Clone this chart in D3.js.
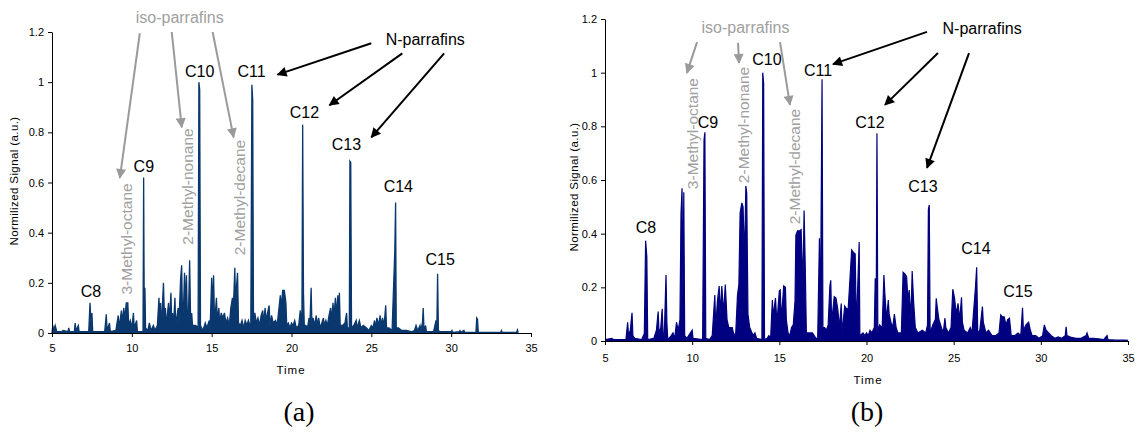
<!DOCTYPE html>
<html>
<head>
<meta charset="utf-8">
<script src="https://cdn.jsdelivr.net/npm/d3@7"></script>
<style>
  body { margin: 0; background: #fff; }
  svg { display: block; font-family: Arial, "Liberation Sans", sans-serif; }
  .axis text { font-size: 11px; fill: #000; }
  .axis path, .axis line { stroke: #000; }
</style>
</head>
<body>
<svg id="chart" width="1141" height="432"></svg>
<script>
// ---- data ----
// panel (a): retention time (min) and normalized signal
var timeA = [5.0,5.05,5.1,5.2,5.3,5.6,5.7,6.0,6.05,6.1,6.4,6.45,6.5,6.65,6.7,7.3,7.38,7.45,7.5,7.55,
  8.3,8.4,8.45,8.6,8.65,9.0,9.05,9.15,9.2,9.35,9.4,9.5,9.55,9.65,9.75,9.8,9.9,10.0,10.1,10.15,10.3,10.35,
  10.7,10.74,10.78,10.82,10.86,11.0,11.1,11.2,11.35,11.45,11.6,11.7,11.75,11.8,11.85,11.98,12.05,12.1,12.15,
  12.3,12.35,12.45,12.5,12.55,12.6,12.7,12.75,12.9,12.95,13.05,13.12,13.18,13.25,13.3,13.35,13.42,13.48,
  13.55,13.62,13.68,13.75,13.8,14.0,14.15,14.2,14.25,14.3,14.45,14.6,14.7,14.85,14.9,15.0,15.05,15.12,15.18,
  15.3,15.35,15.45,15.5,15.6,15.7,15.8,15.9,16.0,16.1,16.2,16.3,16.35,16.45,16.5,16.55,16.62,16.68,16.8,16.9,
  17.0,17.1,17.2,17.3,17.45,17.52,17.57,17.62,17.7,17.8,17.9,18.0,18.1,18.2,18.25,18.35,18.4,18.5,18.6,18.65,
  18.75,18.85,19.0,19.1,19.3,19.35,19.45,19.55,19.65,19.7,19.8,19.9,20.0,20.1,20.2,20.3,20.45,20.55,20.65,
  20.7,20.75,20.8,20.9,21.0,21.1,21.15,21.23,21.28,21.35,21.45,21.55,21.6,21.7,21.8,21.9,22.0,22.05,22.15,
  22.25,22.35,22.45,22.5,22.6,22.65,22.75,22.8,22.9,22.95,23.0,23.05,23.2,23.35,23.45,23.5,23.62,23.66,23.71,
  23.76,23.9,24.05,24.1,24.25,24.35,24.5,24.7,24.85,25.0,25.1,25.2,25.25,25.35,25.45,25.55,25.6,25.7,25.8,
  25.9,25.95,26.1,26.3,26.47,26.52,26.56,26.7,26.9,27.2,27.5,27.7,27.8,27.9,28.05,28.1,28.2,28.25,28.3,28.4,
  28.45,28.9,29.05,29.1,29.15,29.2,29.3,30.0,30.05,30.1,30.5,30.55,30.6,30.8,30.85,31.55,31.6,31.65,31.7,
  33.1,33.15,33.2,34.1,34.15,34.2];
var signalA = [0.0,0.03,0.01,0.03,0.005,0.005,0.01,0.005,0.02,0.005,0.005,0.04,0.01,0.03,0.005,0.005,0.12,0.03,0.08,0.005,
  0.005,0.075,0.01,0.04,0.005,0.01,0.03,0.07,0.02,0.09,0.04,0.1,0.05,0.12,0.12,0.03,0.05,0.02,0.08,0.02,0.05,0.005,
  0.005,0.62,0.05,0.18,0.02,0.01,0.04,0.01,0.03,0.01,0.03,0.14,0.04,0.12,0.02,0.2,0.05,0.1,0.03,
  0.12,0.04,0.16,0.03,0.08,0.02,0.14,0.03,0.1,0.04,0.21,0.27,0.05,0.13,0.24,0.1,0.23,0.06,
  0.08,0.29,0.06,0.08,0.03,0.03,0.02,1.0,0.97,0.03,0.01,0.04,0.02,0.05,0.01,0.22,0.1,0.23,0.04,
  0.14,0.05,0.1,0.04,0.08,0.06,0.08,0.04,0.06,0.03,0.1,0.14,0.08,0.26,0.1,0.18,0.24,0.04,0.03,0.05,
  0.02,0.05,0.03,0.05,0.02,0.99,0.93,0.03,0.08,0.04,0.06,0.03,0.07,0.09,0.04,0.1,0.05,0.08,0.11,0.03,
  0.07,0.04,0.05,0.03,0.15,0.1,0.17,0.17,0.12,0.03,0.04,0.02,0.04,0.03,0.05,0.02,0.03,0.09,0.02,
  0.83,0.16,0.03,0.03,0.02,0.06,0.03,0.18,0.03,0.06,0.03,0.07,0.03,0.06,0.02,0.04,0.06,0.03,0.05,
  0.03,0.07,0.1,0.05,0.12,0.06,0.14,0.07,0.15,0.05,0.16,0.03,0.03,0.04,0.08,0.02,0.02,0.685,0.68,
  0.02,0.03,0.05,0.02,0.05,0.02,0.03,0.02,0.01,0.03,0.02,0.05,0.02,0.06,0.03,0.07,0.03,0.06,0.03,
  0.11,0.02,0.02,0.01,0.33,0.52,0.02,0.02,0.01,0.01,0.005,0.01,0.03,0.01,0.03,0.01,0.04,0.1,0.01,0.03,
  0.005,0.005,0.05,0.01,0.236,0.01,0.005,0.005,0.01,0.002,0.005,0.01,0.003,0.01,0.002,0.002,0.06,0.055,0.002,
  0.002,0.01,0.002,0.002,0.012,0.002];

// panel (b)
var timeB = [5.0,5.4,5.5,6.2,6.3,6.35,6.45,6.55,6.6,6.7,7.1,7.2,7.25,7.33,7.4,7.45,7.8,7.9,7.95,8.05,8.1,8.2,8.28,
  8.33,8.4,8.5,8.55,8.6,8.8,8.9,9.0,9.1,9.2,9.3,9.36,9.42,9.47,9.52,9.57,9.7,9.8,9.9,10.0,10.05,10.6,10.68,
  10.73,10.78,11.0,11.15,11.3,11.35,11.45,11.55,11.6,11.7,11.8,11.9,12.0,12.1,12.3,12.4,12.5,12.6,12.68,12.75,
  12.85,12.92,13.0,13.08,13.13,13.2,13.3,13.5,13.6,13.7,14.0,14.05,14.1,14.15,14.3,14.4,14.5,14.6,14.65,14.7,
  14.78,14.85,14.9,15.0,15.05,15.12,15.25,15.35,15.4,15.5,15.6,15.7,15.8,15.9,15.95,16.05,16.15,16.25,16.35,
  16.42,16.48,16.55,16.7,16.9,17.1,17.2,17.3,17.35,17.45,17.5,17.6,17.7,17.8,17.9,17.95,18.0,18.15,18.25,
  18.35,18.45,18.55,18.6,18.75,18.85,18.95,19.05,19.15,19.25,19.35,19.42,19.58,19.62,19.8,19.9,20.0,20.1,
  20.2,20.3,20.45,20.5,20.55,20.6,20.65,20.75,20.9,21.0,21.05,21.15,21.25,21.3,21.4,21.5,21.6,21.7,21.8,
  22.0,22.1,22.2,22.3,22.38,22.45,22.55,22.62,22.7,22.8,22.95,23.2,23.4,23.5,23.55,23.6,23.65,23.8,23.95,
  24.0,24.05,24.15,24.3,24.4,24.5,24.55,24.7,24.85,24.95,25.05,25.15,25.25,25.35,25.45,25.5,25.6,25.8,
  25.95,26.05,26.25,26.32,26.38,26.5,26.65,26.7,26.85,27.0,27.2,27.4,27.6,27.7,27.8,27.9,28.0,28.1,28.2,
  28.3,28.5,28.7,28.85,28.95,29.0,29.15,29.3,29.4,29.5,29.7,29.9,30.1,30.2,30.3,30.45,30.6,30.8,31.0,
  31.2,31.4,31.45,31.5,31.7,32.0,32.3,32.6,32.65,32.75,33.0,33.3,33.6,33.8,33.85,34.3,34.8,35.0];
var signalB = [0.005,0.01,0.005,0.005,0.07,0.02,0.04,0.105,0.02,0.01,0.005,0.02,0.005,0.374,0.314,0.005,0.01,0.03,0.04,0.11,0.03,0.05,0.12,
  0.03,0.02,0.246,0.07,0.005,0.02,0.03,0.01,0.07,0.04,0.08,0.476,0.569,0.16,0.554,0.02,0.01,0.02,0.03,0.04,0.01,0.005,0.749,
  0.778,0.01,0.005,0.02,0.171,0.05,0.15,0.205,0.1,0.205,0.103,0.21,0.08,0.05,0.05,0.02,0.03,0.171,0.21,0.478,
  0.515,0.5,0.3,0.578,0.55,0.1,0.05,0.02,0.03,0.01,0.005,1.0,0.96,0.005,0.01,0.02,0.01,0.153,0.08,0.12,
  0.16,0.08,0.1,0.187,0.19,0.08,0.205,0.2,0.08,0.03,0.02,0.05,0.06,0.15,0.395,0.411,0.41,0.415,0.2,
  0.486,0.3,0.03,0.03,0.03,0.01,0.01,0.383,0.02,0.975,0.05,0.05,0.04,0.06,0.205,0.226,0.07,0.165,0.16,
  0.12,0.05,0.14,0.03,0.13,0.12,0.12,0.23,0.339,0.33,0.325,0.05,0.369,0.02,0.03,0.02,0.03,0.02,
  0.04,0.03,0.05,0.234,0.02,0.774,0.03,0.06,0.05,0.246,0.18,0.08,0.153,0.1,0.07,0.05,0.1,0.05,0.03,
  0.03,0.256,0.25,0.24,0.15,0.19,0.08,0.261,0.15,0.05,0.03,0.04,0.03,0.06,0.49,0.507,0.03,0.06,0.08,
  0.159,0.13,0.08,0.05,0.03,0.085,0.05,0.03,0.05,0.193,0.16,0.1,0.14,0.08,0.163,0.07,0.04,0.03,
  0.05,0.03,0.2,0.275,0.03,0.04,0.128,0.07,0.03,0.04,0.02,0.02,0.03,0.097,0.09,0.09,0.06,0.08,0.085,
  0.02,0.02,0.03,0.02,0.124,0.04,0.06,0.07,0.04,0.02,0.02,0.01,0.02,0.06,0.04,0.03,0.02,0.01,0.015,
  0.01,0.02,0.053,0.02,0.015,0.01,0.01,0.02,0.03,0.01,0.01,0.008,0.005,0.02,0.005,0.003,0.003,0.002];

var xTicks = [5, 10, 15, 20, 25, 30, 35];
var yTicks = [0, 0.2, 0.4, 0.6, 0.8, 1, 1.2];

// peak labels: name, time, signal (label anchor)
var peakNames = ["C8", "C9", "C10", "C11", "C12", "C13", "C14", "C15"];
var peakPosA = [[7.44,0.143],[10.75,0.641],[14.25,1.02],[17.5,1.02],[20.81,0.857],[23.44,0.729],[26.69,0.562],[29.31,0.271]];
var peakPosB = [[7.35,0.403],[10.91,0.794],[14.29,1.029],[17.22,0.988],[20.2,0.794],[23.24,0.555],[26.28,0.324],[28.69,0.164]];

var isoNames = ["3-Methyl-octane", "2-Methyl-nonane", "2-Methyl-decane"];
var isoPosA = [[9.69,0.375],[13.5,0.584],[16.75,0.54]];
var isoPosB = [[10.03,0.773],[12.93,0.805],[15.9,0.65]];

// arrows [t0, v0, t1, v1]
var isoArrowsA = [[10.5,1.195,9.25,0.618],[12.5,1.2,13.125,0.82],[15.06,1.2,16.375,0.78]];
var nArrowsA = [[25.0,1.155,19.125,1.03],[26.94,1.115,22.375,0.908],[29.56,1.115,25.0,0.78]];
var isoArrowsB = [[10.28,1.114,9.7,0.999],[12.63,1.111,12.69,1.036],[15.04,1.114,15.61,0.88]];
var nArrowsB = [[23.47,1.152,18.08,1.032],[24.1,1.073,21.06,0.88],[25.88,1.073,23.47,0.645]];

var svg = d3.select("#chart");

// arrowheads
var defs = svg.append("defs");
[["headGray", "#9a9a9a"], ["headBlack", "#000"]].forEach(function(m) {
  defs.append("marker")
    .attr("id", m[0])
    .attr("viewBox", "0 0 10 10")
    .attr("refX", 9).attr("refY", 5)
    .attr("markerWidth", 6).attr("markerHeight", 5)
    .attr("markerUnits", "strokeWidth")
    .attr("orient", "auto")
    .append("path")
    .attr("d", "M0,0 L10,5 L0,10 Z")
    .attr("fill", m[1]);
});

function drawPanel(opt) {
  var x = d3.scaleLinear().domain([5, 35]).range(opt.xr);
  var y = d3.scaleLinear().domain([0, 1.2]).range(opt.yr);
  var g = svg.append("g");

  var pts = opt.t.map(function(t, i) { return [t, opt.s[i]]; });

  // the original is sampled densely enough to look filled under the trace
  g.append("path")
    .datum(pts)
    .attr("fill", opt.color)
    .attr("d", d3.area().x(function(d) { return x(d[0]); }).y0(y(0)).y1(function(d) { return y(d[1]); }));

  // signal trace
  g.append("path")
    .datum(pts)
    .attr("fill", "none")
    .attr("stroke", opt.color)
    .attr("stroke-width", opt.lw)
    .attr("stroke-linejoin", "miter")
    .attr("d", d3.line().x(function(d) { return x(d[0]); }).y(function(d) { return y(d[1]); }));

  // axes
  g.append("g")
    .attr("class", "axis")
    .attr("transform", "translate(" + opt.xr[0] + ",0)")
    .call(d3.axisLeft(y).tickValues(yTicks).tickSize(4).tickSizeOuter(0).tickPadding(4)
      .tickFormat(function(d) { return String(d); }));
  g.append("g")
    .attr("class", "axis")
    .attr("transform", "translate(0," + opt.yr[0] + ")")
    .call(d3.axisBottom(x).tickValues(xTicks).tickSize(4).tickSizeOuter(0).tickPadding(opt.xpad)
      .tickFormat(d3.format("d")));

  // axis titles
  g.append("text")
    .attr("transform", "translate(" + opt.ylabX + "," + opt.ylabY + ") rotate(-90)")
    .attr("text-anchor", "middle")
    .style("font-size", "11.5px")
    .style("letter-spacing", "0.4px")
    .text("Normilized Signal (a.u.)");
  g.append("text")
    .attr("x", opt.timeX).attr("y", opt.timeY)
    .attr("text-anchor", "middle")
    .style("font-size", "11.5px")
    .style("letter-spacing", "1px")
    .text("Time");

  // peak names
  g.selectAll(".peak")
    .data(opt.peaks)
    .join("text")
    .attr("x", function(d) { return x(d[0]); })
    .attr("y", function(d) { return y(d[1]); })
    .attr("text-anchor", "middle")
    .style("font-size", "16px")
    .text(function(d, i) { return peakNames[i]; });

  // iso-paraffin names (rotated)
  g.selectAll(".iso")
    .data(opt.iso)
    .join("text")
    .attr("transform", function(d) { return "translate(" + x(d[0]) + "," + y(d[1]) + ") rotate(-90)"; })
    .attr("dy", "0.35em")
    .attr("text-anchor", "middle")
    .attr("fill", "#a0a0a0")
    .style("font-size", "15.5px")
    .text(function(d, i) { return isoNames[i]; });

  // group titles
  g.append("text")
    .attr("x", x(opt.isoTitle[0])).attr("y", y(opt.isoTitle[1]))
    .attr("text-anchor", "middle")
    .attr("fill", "#a0a0a0")
    .style("font-size", "16px")
    .text("iso-parrafins");
  g.append("text")
    .attr("x", x(opt.nTitle[0])).attr("y", y(opt.nTitle[1]))
    .attr("text-anchor", "middle")
    .style("font-size", "16px")
    .text("N-parrafins");

  // arrows
  function arrows(list, col, head) {
    g.selectAll(null)
      .data(list)
      .join("line")
      .attr("x1", function(d) { return x(d[0]); })
      .attr("y1", function(d) { return y(d[1]); })
      .attr("x2", function(d) { return x(d[2]); })
      .attr("y2", function(d) { return y(d[3]); })
      .attr("stroke", col)
      .attr("stroke-width", 2)
      .attr("marker-end", "url(#" + head + ")");
  }
  arrows(opt.isoArrows, "#9a9a9a", "headGray");
  arrows(opt.nArrows, "#000", "headBlack");

  // panel letter
  g.append("text")
    .attr("x", opt.letterX).attr("y", 421)
    .attr("text-anchor", "middle")
    .style("font-family", "'Liberation Serif', 'Times New Roman', serif")
    .style("font-size", "28px")
    .text(opt.letter);
}

drawPanel({
  t: timeA, s: signalA, color: "#0a386e", lw: 1.3,
  xr: [52, 531], yr: [333, 32], xpad: 7,
  ylabX: 18, ylabY: 181, timeX: 291, timeY: 374,
  peaks: peakPosA, iso: isoPosA,
  isoTitle: [13.0, 1.235], nTitle: [28.375, 1.147],
  isoArrows: isoArrowsA, nArrows: nArrowsA,
  letter: "(a)", letterX: 299
});

drawPanel({
  t: timeB, s: signalB, color: "#000080", lw: 1.2,
  xr: [605, 1128], yr: [341, 19], xpad: 9,
  ylabX: 578, ylabY: 187, timeX: 868, timeY: 384,
  peaks: peakPosB, iso: isoPosB,
  isoTitle: [13.06, 1.148], nTitle: [26.63, 1.144],
  isoArrows: isoArrowsB, nArrows: nArrowsB,
  letter: "(b)", letterX: 867
});
</script>
</body>
</html>
